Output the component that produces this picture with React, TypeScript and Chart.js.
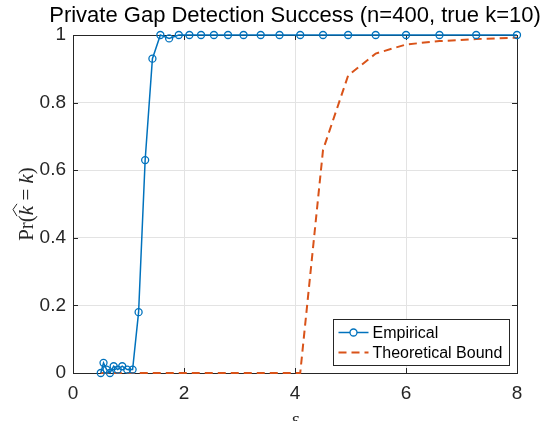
import { useEffect, useRef } from 'react';
import { Chart, registerables } from 'chart.js';

Chart.register(...registerables);

// ---- data ----
const EPSILON = [
  0.5, 0.55, 0.605, 0.666, 0.733, 0.806, 0.887, 0.976, 1.074, 1.182,
  1.3, 1.431, 1.574, 1.732, 1.906, 2.097, 2.307, 2.539, 2.793, 3.073,
  3.382, 3.721, 4.094, 4.505, 4.957, 5.454, 6.001, 6.603, 7.265, 8.0,
];
const EMPIRICAL = [
  0, 0.03, 0.01, 0, 0.02, 0.01, 0.02, 0.01, 0.01, 0.18,
  0.63, 0.93, 1, 0.99, 1, 1, 1, 1, 1, 1,
  1, 1, 1, 1, 1, 1, 1, 1, 1, 1,
];
const THEORETICAL = [
  0, 0, 0, 0, 0, 0, 0, 0, 0, 0,
  0, 0, 0, 0, 0, 0, 0, 0, 0, 0,
  0, 0, 0, 0.66, 0.88, 0.945, 0.972, 0.982, 0.988, 0.992,
];
const X_TICKS = [0, 2, 4, 6, 8];
const Y_TICKS = [0, 0.2, 0.4, 0.6, 0.8, 1];
const SERIES_NAMES = ['Empirical', 'Theoretical Bound'];
const TITLE = 'Private Gap Detection Success (n=400, true k=10)';
const X_LABEL = 'ε';

const BLUE = '#0072BD';
const ORANGE = '#D95319';
const AXIS = '#262626';
const SANS = '"Liberation Sans", Arial, Helvetica, sans-serif';
const SERIF = '"Liberation Serif", "DejaVu Serif", serif';
const DASH = [8, 5];

const decor = {
  id: 'matlabDecor',
  beforeDatasetsDraw(chart: any) {
    const { ctx, chartArea: a, scales } = chart;
    ctx.save();
    ctx.strokeStyle = AXIS;
    ctx.lineWidth = 1;
    ctx.strokeRect(Math.round(a.left) + 0.5, Math.round(a.top) + 0.5, Math.round(a.right - a.left), Math.round(a.bottom - a.top));
    const tl = 5;
    ctx.beginPath();
    for (const v of X_TICKS) {
      const x = Math.round(scales.x.getPixelForValue(v)) + 0.5;
      ctx.moveTo(x, a.bottom); ctx.lineTo(x, a.bottom - tl);
      ctx.moveTo(x, a.top); ctx.lineTo(x, a.top + tl);
    }
    for (const v of Y_TICKS) {
      const y = Math.round(scales.y.getPixelForValue(v)) + 0.5;
      ctx.moveTo(a.left, y); ctx.lineTo(a.left + tl, y);
      ctx.moveTo(a.right, y); ctx.lineTo(a.right - tl, y);
    }
    ctx.stroke();
    ctx.restore();
  },
  afterDraw(chart: any) {
    const { ctx, chartArea: a } = chart;
    const cx = (a.left + a.right) / 2;
    ctx.save();
    // title
    ctx.fillStyle = '#000';
    ctx.font = `22px ${SANS}`;
    ctx.textAlign = 'center';
    ctx.textBaseline = 'middle';
    ctx.fillText(TITLE, cx, 16);
    // x label
    ctx.font = `italic 19px ${SERIF}`;
    ctx.fillStyle = AXIS;
    ctx.textBaseline = 'top';
    ctx.fillText(X_LABEL, cx, 410);
    // y label: Pr(k^ = k)
    ctx.save();
    ctx.translate(26, (a.top + a.bottom) / 2);
    ctx.rotate(-Math.PI / 2);
    const fs = 21;
    const parts: [string, boolean][] = [['Pr(', false], ['k', true], [' = ', false], ['k', true], [')', false]];
    const fontOf = (it: boolean) => `${it ? 'italic ' : ''}${fs}px ${SERIF}`;
    let total = 0;
    for (const [t, it] of parts) { ctx.font = fontOf(it); total += ctx.measureText(t).width; }
    let x = -total / 2;
    ctx.textAlign = 'left';
    ctx.textBaseline = 'alphabetic';
    const base = 7;
    parts.forEach(([t, it], i) => {
      ctx.font = fontOf(it);
      const w = ctx.measureText(t).width;
      ctx.fillText(t, x, base);
      if (i === 1) {
        ctx.beginPath();
        ctx.lineWidth = 1;
        ctx.strokeStyle = AXIS;
        ctx.moveTo(x - 1, base - 16);
        ctx.lineTo(x + w / 2 + 1, base - 20);
        ctx.lineTo(x + w + 2, base - 16);
        ctx.stroke();
      }
      x += w;
    });
    ctx.restore();
    // legend
    const lx = 333.5, ly = 319.5, lw = 176, lh = 46;
    ctx.fillStyle = '#fff';
    ctx.fillRect(lx, ly, lw, lh);
    ctx.strokeStyle = AXIS;
    ctx.lineWidth = 1;
    ctx.strokeRect(lx, ly, lw, lh);
    const rows = [ly + 13, ly + 33];
    const ds = chart.data.datasets;
    ds.forEach((d: any, i: number) => {
      const y = rows[i];
      ctx.save();
      ctx.strokeStyle = d.borderColor;
      ctx.lineWidth = d.borderWidth;
      ctx.setLineDash(d.borderDash || []);
      ctx.beginPath();
      ctx.moveTo(lx + 5, y);
      ctx.lineTo(lx + 35, y);
      ctx.stroke();
      ctx.setLineDash([]);
      if (d.pointRadius > 0) {
        ctx.lineWidth = d.pointBorderWidth;
        ctx.beginPath();
        ctx.arc(lx + 20, y, d.pointRadius, 0, Math.PI * 2);
        ctx.fillStyle = '#fff';
        ctx.fill();
        ctx.stroke();
      }
      ctx.restore();
      ctx.fillStyle = '#000';
      ctx.font = `16px ${SANS}`;
      ctx.textAlign = 'left';
      ctx.textBaseline = 'middle';
      ctx.fillText(d.label, lx + 39, y + 1);
    });
    ctx.restore();
  },
};

export default function App() {
  const ref = useRef<HTMLCanvasElement>(null);
  useEffect(() => {
    if (!ref.current) return;
    const chart = new Chart(ref.current, {
      type: 'line',
      data: {
        datasets: [
          {
            label: SERIES_NAMES[0],
            data: EPSILON.map((x, i) => ({ x, y: EMPIRICAL[i] })),
            borderColor: BLUE,
            borderWidth: 1.5,
            pointRadius: 3.5,
            pointBorderWidth: 1.3,
            pointBorderColor: BLUE,
            pointBackgroundColor: 'rgba(0,0,0,0)',
            pointHoverRadius: 3.5,
            tension: 0,
            clip: false as any,
          },
          {
            label: SERIES_NAMES[1],
            data: EPSILON.map((x, i) => ({ x, y: THEORETICAL[i] })),
            borderColor: ORANGE,
            borderWidth: 2,
            borderDash: DASH,
            pointRadius: 0,
            tension: 0,
            clip: false as any,
          },
        ],
      },
      options: {
        responsive: false,
        animation: false,
        events: [],
        layout: { padding: { top: 35, right: 31, left: 0, bottom: 0 } },
        plugins: { legend: { display: false }, title: { display: false }, tooltip: { enabled: false } },
        scales: {
          x: {
            type: 'linear',
            min: 0,
            max: 8,
            afterBuildTicks: (s: any) => { s.ticks = X_TICKS.map((v) => ({ value: v })); },
            afterFit: (s: any) => { s.height = 48; },
            ticks: {
              color: AXIS,
              font: { family: SANS, size: 19 },
              padding: 9,
              maxRotation: 0,
              callback: (v: any) => String(v),
            },
            grid: { color: '#e3e3e3', drawTicks: false },
            border: { display: false },
          },
          y: {
            type: 'linear',
            min: 0,
            max: 1,
            afterBuildTicks: (s: any) => { s.ticks = Y_TICKS.map((v) => ({ value: v })); },
            afterFit: (s: any) => { s.width = 73; },
            ticks: {
              color: AXIS,
              font: { family: SANS, size: 19 },
              padding: 7,
              callback: (v: any) => String(Number(Number(v).toFixed(1))),
            },
            grid: { color: '#e3e3e3', drawTicks: false },
            border: { display: false },
          },
        },
      },
      plugins: [decor],
    });
    return () => chart.destroy();
  }, []);
  return (
    <div style={{ position: 'absolute', left: 0, top: 0, width: 548, height: 421, background: '#fff' }}>
      <canvas ref={ref} width={548} height={421} />
    </div>
  );
}
